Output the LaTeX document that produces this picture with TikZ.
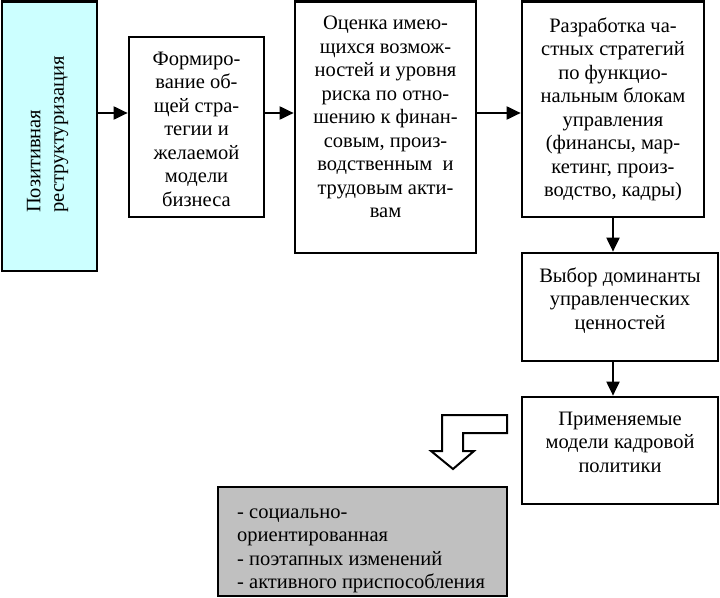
\documentclass[tikz,border=0pt]{standalone}
\usepackage{fontspec}
\setmainfont{Liberation Serif}
\usetikzlibrary{arrows.meta}
\definecolor{cyanbox}{RGB}{204,255,255}
\definecolor{graybox}{RGB}{192,192,192}
\begin{document}
\begin{tikzpicture}[x=1pt,y=-1pt,
 box/.style={draw, line width=2.7pt, inner sep=0pt, rectangle},
 txt/.style={inner sep=0pt, align=center, anchor=north, font=\fontsize{20.5}{23.5}\selectfont},
 arr/.style={line width=2pt, -{Triangle[length=14pt,width=13pt]}}]
\useasboundingbox (0,0) rectangle (720,597);
% boxes
\node[box, fill=cyanbox, minimum width=95pt, minimum height=269.5pt] (b1) at (49.5,136.25) {};
\node[box, minimum width=135pt, minimum height=180pt] (b2) at (196.5,127) {};
\node[box, minimum width=181pt, minimum height=251.5pt] (b3) at (385.5,127.25) {};
\node[box, minimum width=182pt, minimum height=215.5pt] (b4) at (613,109.25) {};
\node[box, minimum width=196pt, minimum height=108pt] (b5) at (620,307) {};
\node[box, minimum width=196pt, minimum height=107pt] (b6) at (620,450.5) {};
\node[box, fill=graybox, minimum width=289pt, minimum height=109pt] (g) at (362.5,541.5) {};
% texts
\node[txt, rotate=90, align=left, anchor=west] (t1) at (46,213) {\strut Позитивная\\реструктуризация};
\node[txt] (t2) at (196.5,48.5) {\strut Формиро-\\вание об-\\щей стра-\\тегии и\\желаемой\\модели\\бизнеса};
\node[txt] (t3) at (385.5,13) {\strut Оценка имею-\\щихся возмож-\\ностей и уровня\\риска по отно-\\шению к финан-\\совым, произ-\\водственным~ и\\трудовым акти-\\вам};
\node[txt] (t4) at (613,15.5) {\strut Разработка ча-\\стных стратегий\\по функцио-\\нальным блокам\\управления\\(финансы, мар-\\кетинг, произ-\\водство, кадры)};
\node[txt] (t5) at (620,265.5) {\strut Выбор доминанты\\управленческих\\ценностей};
\node[txt] (t6) at (620,408.5) {\strut Применяемые\\модели кадровой\\политики};
\node[txt, align=left, anchor=north west] (tg) at (237,501.5) {\strut - социально-\\ориентированная\\- поэтапных изменений\\- активного приспособления};
% connectors
\coordinate (r) at (0,113);
\draw[arr] (b1.east |- r) -- (b2.west |- r);
\draw[arr] (b2.east |- r) -- (b3.west |- r);
\draw[arr] (b3.east |- r) -- (b4.west |- r);
\draw[arr] (b4.south) -- (b4.south |- b5.north);
\draw[arr] (b4.south |- b5.south) -- (b4.south |- b6.north);
% hollow arrow
\draw[line width=2pt, fill=white] (507,415) -- (442,415) -- (442,451) -- (431,451) -- (453,469) -- (474,451) -- (463,451) -- (463,433) -- (507,433) -- cycle;
\end{tikzpicture}
\end{document}
